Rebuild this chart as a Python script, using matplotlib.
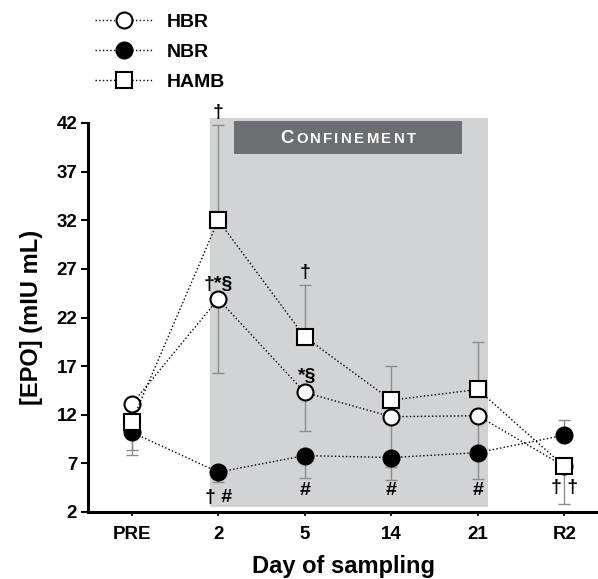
import matplotlib
matplotlib.use("Agg")
import matplotlib.pyplot as plt
from matplotlib.patches import Rectangle
from matplotlib.transforms import IdentityTransform
import numpy as np

plt.rcParams['font.family'] = ['Liberation Sans', 'DejaVu Sans']
plt.rcParams['font.weight'] = 'bold'

# Data
days = ['PRE', '2', '5', '14', '21', 'R2']
hbr = [13.1, 23.9, 14.3, 11.8, 11.9, 6.7]
nbr = [10.2, 6.1, 7.8, 7.6, 8.1, 9.9]
hamb = [11.3, 32.0, 20.0, 13.5, 14.6, 6.7]

# error bar ends (None = no bar on that side)
hbr_lo = [None, 16.3, 10.3, 6.6, 8.5, None]
hbr_hi = [None, None, None, None, None, None]
nbr_lo = [7.9, 5.1, 5.5, 5.3, 5.4, None]
nbr_hi = [None, None, None, None, None, 11.5]
hamb_lo = [8.4, None, None, None, None, 2.8]
hamb_hi = [None, 41.8, 25.3, 17.0, 19.5, None]

yticks = [2, 7, 12, 17, 22, 27, 32, 37, 42]
confinement = (0.9, 4.12)   # shaded span in day-index units

# significance marks: (x index, y, text)
marks = [(1, 43.1, '†'), (1, 25.4, '†*§'), (2, 26.6, '†'), (2.03, 15.9, '*§'),
         (1, 3.5, '† #'), (2, 4.2, '#'), (3, 4.2, '#'), (4, 4.2, '#'), (5, 4.5, '† †')]


def err(mean, lo, hi):
    low = [m - l if l is not None else 0 for m, l in zip(mean, lo)]
    high = [h - m if h is not None else 0 for m, h in zip(mean, hi)]
    return [low, high]


fig = plt.figure(figsize=(5.98, 5.79), dpi=100)
ax = fig.add_axes([88.3/598, 67/579, (598-88.3)/598, (512-123)/579])
x = np.arange(len(days))

# shaded confinement period
ax.add_patch(Rectangle((confinement[0], 2.5), confinement[1]-confinement[0], 40.0,
                       facecolor='#d1d3d4', edgecolor='none', zorder=0, clip_on=False))
ax.add_patch(Rectangle((1.18, 38.8), 2.64, 3.4, facecolor='#6d6e71',
                       edgecolor='none', zorder=1, clip_on=False))

for mean, lo, hi in [(hbr, hbr_lo, hbr_hi), (nbr, nbr_lo, nbr_hi), (hamb, hamb_lo, hamb_hi)]:
    ax.errorbar(x, mean, yerr=err(mean, lo, hi), fmt='none', ecolor='#8c8c8c',
                elinewidth=1.0, capsize=4.5, capthick=1.0, zorder=2)

ms = 11.5
l1, = ax.plot(x, hbr, ':', color='black', lw=1.0, marker='o', ms=ms, mfc='white',
              mec='black', mew=1.5, zorder=4, label='HBR')
l2, = ax.plot(x, nbr, ':', color='black', lw=1.0, marker='o', ms=ms, mfc='black',
              mec='black', mew=1.5, zorder=4, label='NBR')
l3, = ax.plot(x, hamb, ':', color='black', lw=1.0, marker='s', ms=ms, mfc='white',
              mec='black', mew=1.5, zorder=4, label='HAMB')

for xi, yi, t in marks:
    ax.text(xi, yi, t, ha='center', va='center', fontsize=14, fontweight='bold',
            clip_on=False, zorder=5)

ax.set_xlim(-0.502, 5.39)
ax.set_ylim(2, 42)
ax.set_yticks(yticks)
ax.set_xticks(x)
ax.set_xticklabels(days)
ax.tick_params(axis='both', labelsize=13.5, width=1.5, length=5, pad=3)
ax.tick_params(axis='x', width=1.2, length=3, pad=7)
for s in ['top', 'right']:
    ax.spines[s].set_visible(False)
for s in ['left', 'bottom']:
    ax.spines[s].set_linewidth(2.2)
ax.set_xlabel('Day of sampling', fontsize=17, fontweight='bold', labelpad=9)
ax.set_ylabel('[EPO] (mIU mL)', fontsize=17, fontweight='bold', labelpad=10)

# small-caps CONFINEMENT label
renderer = fig.canvas.get_renderer()
letters = [('C', 13.3)] + [(ch, 10.7) for ch in 'ONFINEMENT']
track = 2.4
texts = []
widths = []
for ch, fs in letters:
    t = fig.text(0, 0, ch, fontsize=fs, fontweight='bold', color='white',
                 transform=IdentityTransform(), ha='left', va='baseline', zorder=6)
    texts.append(t)
    widths.append(t.get_window_extent(renderer).width)
total = sum(widths) + track*(len(widths)-1)
cx, cy = ax.transData.transform((2.5, 39.9))
cur = cx - total/2
for t, w in zip(texts, widths):
    t.set_position((cur, cy))
    cur += w + track

fig.legend(handles=[l1, l2, l3], loc='upper left', bbox_to_anchor=(95/598, 1-13/579),
           frameon=False, fontsize=14, handlelength=3.0, handletextpad=0.7,
           labelspacing=0.65, borderpad=0, borderaxespad=0, numpoints=1)

fig.savefig('out.png', dpi=100)
